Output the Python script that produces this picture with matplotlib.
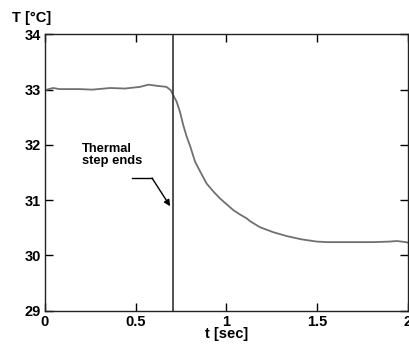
import matplotlib
matplotlib.use("Agg")
import matplotlib.pyplot as plt

# temperature trace
t_sec = [0.0, 0.044, 0.08, 0.19, 0.26, 0.36, 0.44, 0.524, 0.57, 0.616, 0.67,
         0.693, 0.707, 0.726, 0.744, 0.762, 0.781, 0.80, 0.827, 0.855, 0.891, 0.93,
         0.965, 1.038, 1.075, 1.112, 1.13, 1.185, 1.258, 1.332, 1.415, 1.498, 1.553,
         1.626, 1.72, 1.81, 1.90, 1.94, 1.99, 2.0]
temp_c = [32.99, 33.03, 33.01, 33.01, 33.0, 33.03, 33.02, 33.05, 33.09, 33.07, 33.05,
          32.99, 32.90, 32.78, 32.60, 32.36, 32.15, 31.98, 31.70, 31.52, 31.30, 31.15,
          31.03, 30.82, 30.74, 30.67, 30.62, 30.51, 30.42, 30.35, 30.29, 30.25, 30.24,
          30.24, 30.24, 30.24, 30.25, 30.26, 30.24, 30.23]

step_end = 0.704
x_ticks = [0, 0.5, 1, 1.5, 2]
x_labels = ["0", "0.5", "1", "1.5", "2"]
y_ticks = [29, 30, 31, 32, 33, 34]

note_text = "Thermal\nstep ends"
note_pos = (0.204, 32.03)
arrow_start = (0.48, 31.4)
arrow_bend = (0.59, 31.4)
arrow_tip = (0.69, 30.89)

plt.rcParams["font.family"] = ["Liberation Sans", "DejaVu Sans"]
plt.rcParams["font.weight"] = "bold"

fig = plt.figure(figsize=(4.09, 3.44), dpi=100)
ax = fig.add_axes([0.110, 0.097, 0.887, 0.803])

ax.plot(t_sec, temp_c, color="#707070", lw=1.3)
ax.axvline(step_end, color="#333333", lw=1.2)

# annotation: short horizontal lead-in then arrow down to the step line
ax.plot([arrow_start[0], arrow_bend[0]], [arrow_start[1], arrow_bend[1]],
        color="black", lw=1.0)
ax.annotate("", xy=arrow_tip, xytext=arrow_bend,
            arrowprops=dict(arrowstyle="-|>", color="black", lw=1.0,
                            mutation_scale=9, shrinkA=0, shrinkB=0))
ax.text(note_pos[0], note_pos[1], note_text, ha="left", va="top",
        fontsize=9.3, fontweight="bold", linespacing=0.95)

ax.set_xlim(0, 2)
ax.set_ylim(29, 34)
ax.set_xticks(x_ticks)
ax.set_xticklabels(x_labels)
ax.set_yticks(y_ticks)
ax.tick_params(direction="in", length=6, width=1, top=True, right=True,
               labelsize=10.5, pad=3)
for lab in ax.get_xticklabels() + ax.get_yticklabels():
    lab.set_fontweight("bold")
for s in ax.spines.values():
    s.set_linewidth(1.0)
    s.set_color("#222222")

ax.set_xlabel("t [sec]", fontsize=10.5, fontweight="bold", labelpad=-1)
fig.text(12 / 409, 1 - 18 / 344, "T [°C]", fontsize=10.5, fontweight="bold",
         ha="left", va="center")

fig.savefig("out.png", dpi=100)
